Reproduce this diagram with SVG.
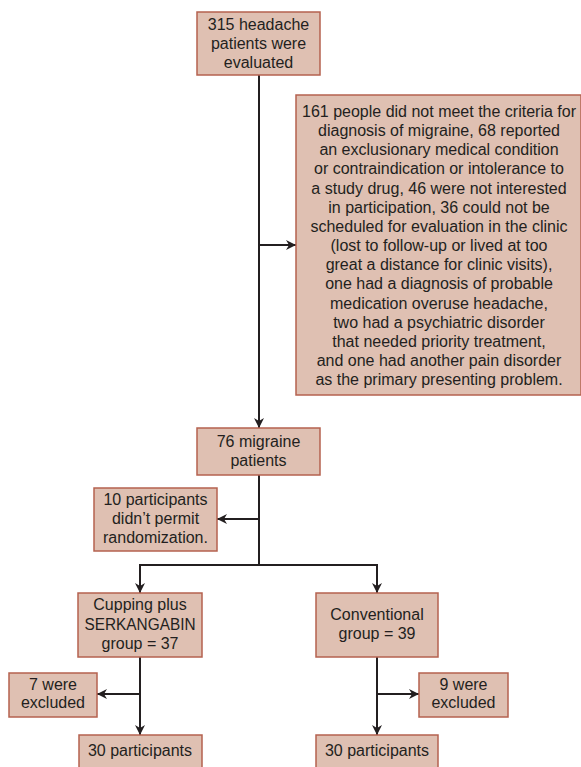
<svg xmlns="http://www.w3.org/2000/svg" width="581" height="767" viewBox="0 0 581 767">
<style>
.box{fill:#dfc0b2;stroke:#b5624f;stroke-width:1.5}
.t{font-family:"Liberation Sans",Arial,sans-serif;font-size:16px;fill:#231f20;text-anchor:middle}
.c{fill:none;stroke:#231f20;stroke-width:2}
</style>
<defs>
<marker id="ah" viewBox="0 0 10 10" refX="10" refY="5" markerWidth="10" markerHeight="10" markerUnits="userSpaceOnUse" orient="auto">
<path d="M0,0 L10,5 L0,10 L3,5 z" fill="#231f20"/>
</marker>
</defs>
<rect width="581" height="767" fill="#ffffff"/>
<g id="connectors">
<path class="c" d="M259,75 V428" marker-end="url(#ah)"/>
<path class="c" d="M259,245 H296" marker-end="url(#ah)"/>
<path class="c" d="M259,475 V565"/>
<path class="c" d="M259,519 H217" marker-end="url(#ah)"/>
<path class="c" d="M140,593 V565 H377 V593" marker-end="url(#ah)"/>
<path class="c" d="M140,565 V593" marker-end="url(#ah)"/>
<path class="c" d="M140,657 V735" marker-end="url(#ah)"/>
<path class="c" d="M140,694 H97" marker-end="url(#ah)"/>
<path class="c" d="M377,657 V735" marker-end="url(#ah)"/>
<path class="c" d="M377,694 H419" marker-end="url(#ah)"/>
</g>
<g id="n1">
<rect class="box" x="197" y="12" width="123" height="63"/>
<text class="t" x="258.5" y="30">315 headache</text>
<text class="t" x="258.5" y="49">patients were</text>
<text class="t" x="258.5" y="68">evaluated</text>
</g>
<g id="n2">
<rect class="box" x="296" y="95" width="285" height="300"/>
<text class="t" x="439" y="117">161 people did not meet the criteria for</text>
<text class="t" x="439" y="136">diagnosis of migraine, 68 reported</text>
<text class="t" x="439" y="155">an exclusionary medical condition</text>
<text class="t" x="439" y="174">or contraindication or intolerance to</text>
<text class="t" x="439" y="194">a study drug, 46 were not interested</text>
<text class="t" x="439" y="213">in participation, 36 could not be</text>
<text class="t" x="439" y="232">scheduled for evaluation in the clinic</text>
<text class="t" x="439" y="251">(lost to follow-up or lived at too</text>
<text class="t" x="439" y="270">great a distance for clinic visits),</text>
<text class="t" x="439" y="289">one had a diagnosis of probable</text>
<text class="t" x="439" y="309">medication overuse headache,</text>
<text class="t" x="439" y="328">two had a psychiatric disorder</text>
<text class="t" x="439" y="347">that needed priority treatment,</text>
<text class="t" x="439" y="366">and one had another pain disorder</text>
<text class="t" x="439" y="385">as the primary presenting problem.</text>
</g>
<g id="n3">
<rect class="box" x="197" y="428" width="123" height="47"/>
<text class="t" x="258.5" y="447">76 migraine</text>
<text class="t" x="258.5" y="466">patients</text>
</g>
<g id="n4">
<rect class="box" x="94" y="488" width="123" height="63"/>
<text class="t" x="155.5" y="505">10 participants</text>
<text class="t" x="155.5" y="524">didn’t permit</text>
<text class="t" x="155.5" y="543">randomization.</text>
</g>
<g id="n5">
<rect class="box" x="78" y="593" width="124" height="64"/>
<text class="t" x="140" y="610">Cupping plus</text>
<text class="t" x="140" y="630" textLength="111" lengthAdjust="spacingAndGlyphs">SERKANGABIN</text>
<text class="t" x="140" y="649">group = 37</text>
</g>
<g id="n6">
<rect class="box" x="316" y="593" width="122" height="64"/>
<text class="t" x="377" y="620">Conventional</text>
<text class="t" x="377" y="639">group = 39</text>
</g>
<g id="n7">
<rect class="box" x="9" y="673" width="88" height="44"/>
<text class="t" x="53" y="690">7 were</text>
<text class="t" x="53" y="708">excluded</text>
</g>
<g id="n8">
<rect class="box" x="419" y="673" width="89" height="44"/>
<text class="t" x="463.5" y="690">9 were</text>
<text class="t" x="463.5" y="708">excluded</text>
</g>
<g id="n9">
<rect class="box" x="79" y="735" width="123" height="40"/>
<text class="t" x="140" y="756">30 participants</text>
</g>
<g id="n10">
<rect class="box" x="316" y="735" width="122" height="40"/>
<text class="t" x="377" y="756">30 participants</text>
</g>
</svg>
